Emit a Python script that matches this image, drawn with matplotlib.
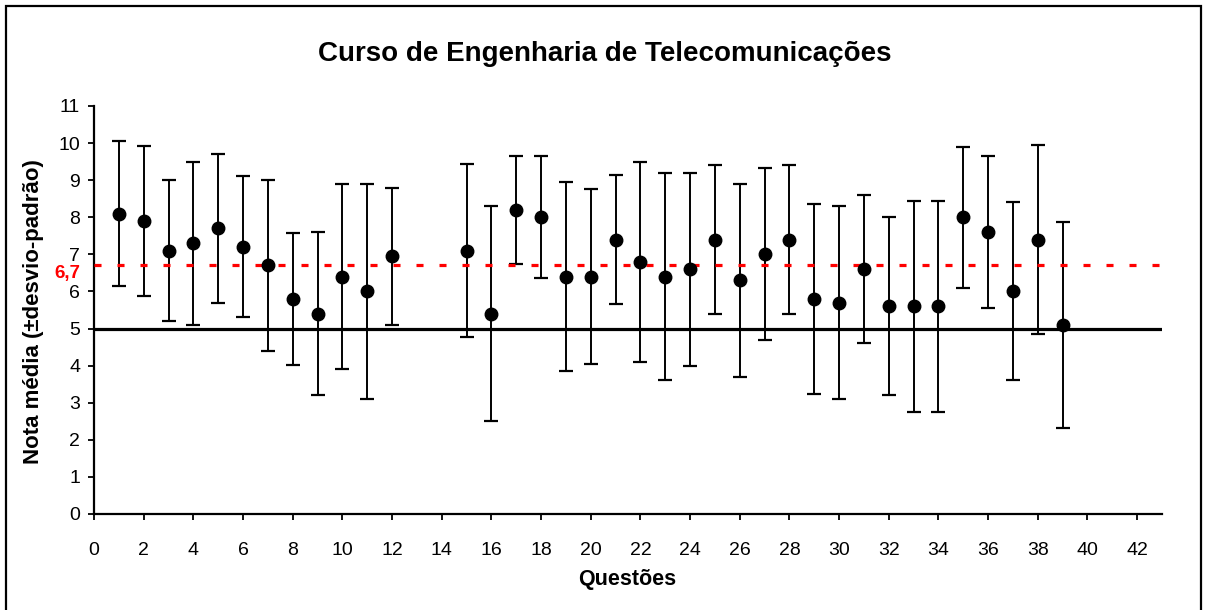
import matplotlib
matplotlib.use("Agg")
import matplotlib.pyplot as plt
import matplotlib.transforms as mtransforms
from matplotlib.patches import Rectangle

plt.rcParams['font.family'] = ['Liberation Sans', 'DejaVu Sans']

questions = [1, 2, 3, 4, 5, 6, 7, 8, 9, 10, 11, 12,
             15, 16, 17, 18, 19, 20, 21, 22, 23, 24, 25, 26, 27, 28,
             29, 30, 31, 32, 33, 34, 35, 36, 37, 38, 39]
means = [8.1, 7.9, 7.1, 7.3, 7.7, 7.2, 6.7, 5.8, 5.4, 6.4, 6.0, 6.95,
         7.1, 5.4, 8.2, 8.0, 6.4, 6.4, 7.4, 6.8, 6.4, 6.6, 7.4, 6.3, 7.0, 7.4,
         5.8, 5.7, 6.6, 5.6, 5.6, 5.6, 8.0, 7.6, 6.0, 7.4, 5.1]
sds = [1.95, 2.03, 1.9, 2.2, 2.0, 1.9, 2.3, 1.77, 2.2, 2.5, 2.9, 1.85,
       2.33, 2.9, 1.45, 1.65, 2.55, 2.35, 1.75, 2.7, 2.8, 2.6, 2.0, 2.6, 2.32, 2.0,
       2.57, 2.6, 2.0, 2.4, 2.85, 2.85, 1.9, 2.05, 2.4, 2.55, 2.78]
passing_grade = 5
course_mean = 6.7
course_mean_label = "6,7"
title = "Curso de Engenharia de Telecomunicações"
xlabel = "Questões"
ylabel = "Nota média (±desvio-padrão)"

W, H = 1205, 610
fig = plt.figure(figsize=(W / 100, H / 100), dpi=100)
ax = fig.add_axes([94 / W, (H - 514) / H, (1162 - 94) / W, (514 - 106) / H])

ax.errorbar(questions, means, yerr=sds, fmt='none', ecolor='black',
            elinewidth=1.4, capsize=5, capthick=1.6, zorder=2)
ax.axhline(passing_grade, color='black', lw=2.3, zorder=3)
ax.axhline(course_mean, color='#ff0000', lw=2.3, ls=(0, (2.2, 5.0)), zorder=3)
ax.plot(questions, means, 'o', color='black', markersize=9, zorder=4)

ax.set_xlim(0, 43)
ax.set_ylim(0, 11)
ax.set_xticks(range(0, 43, 2))
ax.set_yticks(range(0, 12))
for s in ['top', 'right']:
    ax.spines[s].set_visible(False)
for s in ['left', 'bottom']:
    ax.spines[s].set_linewidth(1.6)
ax.tick_params(axis='both', direction='out', length=4, width=1.3,
               labelsize=14, colors='black')
ax.tick_params(axis='x', pad=16)
ax.tick_params(axis='y', pad=6)

trans = mtransforms.blended_transform_factory(ax.transAxes, ax.transData)
ax.text(-0.013, course_mean, course_mean_label, transform=trans,
        ha='right', va='top', color='#ff0000', fontsize=13.5, fontweight='bold')

fig.text(605 / W, 1 - 54 / H, title, ha='center', va='center',
         fontsize=20, fontweight='bold')
fig.text(627 / W, 1 - 580 / H, xlabel, ha='center', va='center',
         fontsize=15.5, fontweight='bold')
fig.text(33.5 / W, 1 - 312 / H, ylabel, ha='center', va='center',
         rotation=90, fontsize=16, fontweight='bold')

fig.patches.append(Rectangle((6 / W, -0.05), (1201 - 6) / W, 1.05 - 6 / H,
                             transform=fig.transFigure, fill=False,
                             edgecolor='black', lw=1.6, clip_on=False))

fig.savefig('out.png', dpi=100)
